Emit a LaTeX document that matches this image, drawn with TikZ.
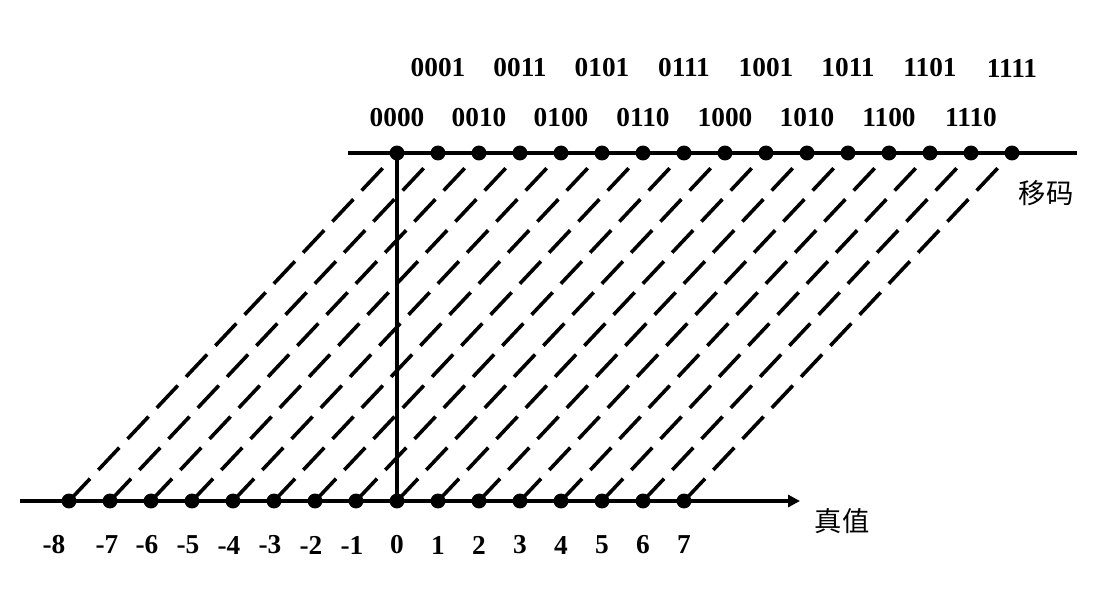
\documentclass[tikz,border=0pt]{standalone}
\usepackage{fontspec}
\setmainfont{Liberation Serif}
\newfontfamily\cjkfont{Noto Sans CJK SC}
\usetikzlibrary{arrows.meta}
\begin{document}
\begin{tikzpicture}[x=0.75pt,y=-0.75pt,line width=2.8pt,
    numlab/.style={font=\fontsize{20.5}{24}\selectfont\bfseries},
    cjklab/.style={font=\cjkfont\fontsize{20.5}{24}\selectfont},
    mapline/.style={line width=2.7pt,dash pattern=on 23pt off 9pt,shorten >=8pt}]
    \useasboundingbox (0,0) rectangle (1120,600);

% axes
    \coordinate (L0) at (20,501);
    \coordinate (L1) at (800,501);
    \coordinate (U0) at (348,153);
    \coordinate (U1) at (1077,153);

% true values
    \coordinate (B1) at (69,501);
    \coordinate (B2) at (110,501);
    \coordinate (B3) at (151,501);
    \coordinate (B4) at (192,501);
    \coordinate (B5) at (233,501);
    \coordinate (B6) at (274,501);
    \coordinate (B7) at (315,501);
    \coordinate (B8) at (356,501);
    \coordinate (B9) at (397,501);
    \coordinate (B10) at (438,501);
    \coordinate (B11) at (479,501);
    \coordinate (B12) at (520,501);
    \coordinate (B13) at (561,501);
    \coordinate (B14) at (602,501);
    \coordinate (B15) at (643,501);
    \coordinate (B16) at (684,501);

% biased codes
    \coordinate (T1) at (397,153);
    \coordinate (T2) at (438,153);
    \coordinate (T3) at (479,153);
    \coordinate (T4) at (520,153);
    \coordinate (T5) at (561,153);
    \coordinate (T6) at (602,153);
    \coordinate (T7) at (643,153);
    \coordinate (T8) at (684,153);
    \coordinate (T9) at (725,153);
    \coordinate (T10) at (766,153);
    \coordinate (T11) at (807,153);
    \coordinate (T12) at (848,153);
    \coordinate (T13) at (889,153);
    \coordinate (T14) at (930,153);
    \coordinate (T15) at (971,153);
    \coordinate (T16) at (1012,153);

    \draw[mapline] (B1) -- (T1);
    \draw[mapline] (B2) -- (T2);
    \draw[mapline] (B3) -- (T3);
    \draw[mapline] (B4) -- (T4);
    \draw[mapline] (B5) -- (T5);
    \draw[mapline] (B6) -- (T6);
    \draw[mapline] (B7) -- (T7);
    \draw[mapline] (B8) -- (T8);
    \draw[mapline] (B9) -- (T9);
    \draw[mapline] (B10) -- (T10);
    \draw[mapline] (B11) -- (T11);
    \draw[mapline] (B12) -- (T12);
    \draw[mapline] (B13) -- (T13);
    \draw[mapline] (B14) -- (T14);
    \draw[mapline] (B15) -- (T15);
    \draw[mapline] (B16) -- (T16);

    \draw[-{Triangle[length=9pt,width=9pt]}] (L0) -- (L1);
    \draw (U0) -- (U1);
    \draw (B9) -- (T1);

    \fill (B1) circle (5.6pt);
    \fill (B2) circle (5.6pt);
    \fill (B3) circle (5.6pt);
    \fill (B4) circle (5.6pt);
    \fill (B5) circle (5.6pt);
    \fill (B6) circle (5.6pt);
    \fill (B7) circle (5.6pt);
    \fill (B8) circle (5.6pt);
    \fill (B9) circle (5.6pt);
    \fill (B10) circle (5.6pt);
    \fill (B11) circle (5.6pt);
    \fill (B12) circle (5.6pt);
    \fill (B13) circle (5.6pt);
    \fill (B14) circle (5.6pt);
    \fill (B15) circle (5.6pt);
    \fill (B16) circle (5.6pt);

    \fill (T1) circle (5.6pt);
    \fill (T2) circle (5.6pt);
    \fill (T3) circle (5.6pt);
    \fill (T4) circle (5.6pt);
    \fill (T5) circle (5.6pt);
    \fill (T6) circle (5.6pt);
    \fill (T7) circle (5.6pt);
    \fill (T8) circle (5.6pt);
    \fill (T9) circle (5.6pt);
    \fill (T10) circle (5.6pt);
    \fill (T11) circle (5.6pt);
    \fill (T12) circle (5.6pt);
    \fill (T13) circle (5.6pt);
    \fill (T14) circle (5.6pt);
    \fill (T15) circle (5.6pt);
    \fill (T16) circle (5.6pt);

% value labels
    \node[numlab] (N1) at (54,545) {-8};
    \node[numlab] (N2) at (107,545) {-7};
    \node[numlab] (N3) at (147,545) {-6};
    \node[numlab] (N4) at (188,545) {-5};
    \node[numlab] (N5) at (229,545) {-4};
    \node[numlab] (N6) at (270,545) {-3};
    \node[numlab] (N7) at (311,545) {-2};
    \node[numlab] (N8) at (352,545) {-1};
    \node[numlab] (N9) at (397,545) {0};
    \node[numlab] (N10) at (438,545) {1};
    \node[numlab] (N11) at (479,545) {2};
    \node[numlab] (N12) at (520,545) {3};
    \node[numlab] (N13) at (561,545) {4};
    \node[numlab] (N14) at (602,545) {5};
    \node[numlab] (N15) at (643,545) {6};
    \node[numlab] (N16) at (684,545) {7};

% code labels
    \node[numlab] (C1) at (397,118) {0000};
    \node[numlab] (C2) at (438,68) {0001};
    \node[numlab] (C3) at (479,118) {0010};
    \node[numlab] (C4) at (520,68) {0011};
    \node[numlab] (C5) at (561,118) {0100};
    \node[numlab] (C6) at (602,68) {0101};
    \node[numlab] (C7) at (643,118) {0110};
    \node[numlab] (C8) at (684,68) {0111};
    \node[numlab] (C9) at (725,118) {1000};
    \node[numlab] (C10) at (766,68) {1001};
    \node[numlab] (C11) at (807,118) {1010};
    \node[numlab] (C12) at (848,68) {1011};
    \node[numlab] (C13) at (889,118) {1100};
    \node[numlab] (C14) at (930,68) {1101};
    \node[numlab] (C15) at (971,118) {1110};
    \node[numlab] (C16) at (1012,68) {1111};

    \node[cjklab] (Zhen) at (842,521) {真值};
    \node[cjklab] (Yi) at (1046,193) {移码};

\end{tikzpicture}
\end{document}
